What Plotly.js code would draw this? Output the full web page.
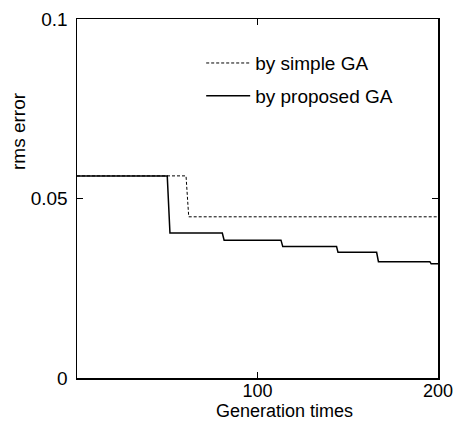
<!DOCTYPE html>
<html>
<head>
<meta charset="utf-8">
<script src="https://cdn.plot.ly/plotly-3.0.1.min.js"></script>
<style>html,body{margin:0;padding:0;background:#fff;}</style>
</head>
<body>
<div id="chart" style="width:459px;height:421px;"></div>
<script>
const seriesNames = ["by simple GA", "by proposed GA"];
const genSimple = [0, 60.4, 61.9, 200];
const errSimple = [0.0563, 0.0563, 0.0449, 0.0449];
const genProposed = [0, 50, 51.5, 80.5, 81.5, 113, 114, 143.8, 144.6, 166, 167, 195.5, 196.2, 200];
const errProposed = [0.0563, 0.0563, 0.0404, 0.0404, 0.0384, 0.0384, 0.0366, 0.0366, 0.0350, 0.0350, 0.0324, 0.0324, 0.0318, 0.0318];
const xTickVals = [100, 200];
const xTickText = ["100", "200"];
const yTickVals = [0, 0.05, 0.1];
const yTickText = ["0", "0.05", "0.1"];
const xTitle = "Generation times";
const yTitle = "rms error";

const fontFam = '"Liberation Sans", Arial, Helvetica, sans-serif';

const traces = [
  {x: genSimple, y: errSimple, name: seriesNames[0], mode: 'lines', legendgroup: 'a',
   line: {color: '#000', width: 1, dash: '3px,2px'}},
  {x: genProposed, y: errProposed, name: seriesNames[1], mode: 'lines', legendgroup: 'b',
   line: {color: '#000', width: 1.5}}
];

const layout = {
  width: 459, height: 421,
  margin: {l: 77, r: 21, t: 19, b: 43},
  paper_bgcolor: '#fff', plot_bgcolor: '#fff',
  font: {family: fontFam, color: '#000', size: 18},
  showlegend: true,
  legend: {x: 0.344, y: 0.93, xanchor: 'left', yanchor: 'top', bgcolor: 'rgba(0,0,0,0)',
           font: {size: 19, family: fontFam}, traceorder: 'grouped', tracegroupgap: 5, itemwidth: 44},
  xaxis: {range: [0, 200], tickvals: xTickVals, ticktext: xTickText, ticks: 'inside', ticklen: 6,
          tickcolor: '#000', showline: true, linecolor: '#000', linewidth: 1.5, mirror: 'ticks',
          showgrid: false, zeroline: false, tickfont: {size: 18}, ticklabelstandoff: -4},
  yaxis: {range: [0, 0.1], tickvals: yTickVals, ticktext: yTickText, ticks: 'inside', ticklen: 6,
          tickcolor: '#000', showline: true, linecolor: '#000', linewidth: 1.5, mirror: 'ticks',
          showgrid: false, zeroline: false, tickfont: {size: 19}, ticklabelstandoff: 4},
  annotations: [
    {text: xTitle, xref: 'paper', yref: 'paper', x: 0.576, y: 0, xanchor: 'center', yanchor: 'bottom',
     yshift: -44, showarrow: false, font: {size: 18}, borderpad: 0},
    {text: yTitle, xref: 'paper', yref: 'paper', x: 0, y: 0.688, xanchor: 'center', yanchor: 'middle',
     xshift: -59, textangle: -90, showarrow: false, font: {size: 19}}
  ]
};

Plotly.newPlot('chart', traces, layout, {displayModeBar: false, staticPlot: true});
</script>
</body>
</html>
